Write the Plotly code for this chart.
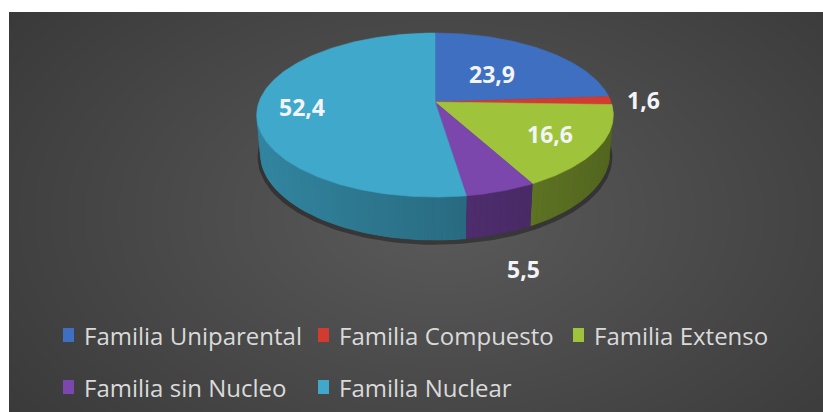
import numpy as np
import plotly.graph_objects as go

# ---- data -------------------------------------------------------------
categories = ["Familia Uniparental", "Familia Compuesto", "Familia Extenso",
              "Familia sin Nucleo", "Familia Nuclear"]
values = [23.9, 1.6, 16.6, 5.5, 52.4]

# ---- style ------------------------------------------------------------
top_colors = ["#3f6fc1", "#d13b30", "#a0c33c", "#7c47ad", "#40a8ca"]
label_radius = [0.50, 1.19, 0.72, 1.30, 0.75]   # fraction of pie radius
label_level = [0.0, 0.0, 0.0, -1.0, 0.0]        # 0 = top face, -1 = base
label_color = "#f2f4f8"
legend_color = "#dadada"
FONT = "Open Sans"

W, HGT = 823, 412
ML, MT = 9, 12

# perspective 3D pie: centre, focal length, camera distance, tilt, thickness
CX, CY = 435.0, 102.0
FOC = 986.0
DIST = 5.6
ALPHA = np.radians(27.0)
THICK = 0.248
SA, CA = np.sin(ALPHA), np.cos(ALPHA)


def project(theta, r, z):
    """theta in radians, clockwise from the back of the pie."""
    X = r * np.sin(theta)
    Y = r * np.cos(theta)
    v = Y * SA + z * CA
    w = Y * CA - z * SA + DIST
    return CX + FOC * X / w, CY - FOC * v / w


def shade(hex_color, k):
    h = hex_color.lstrip("#")
    rgb = [int(h[i:i + 2], 16) for i in (0, 2, 4)]
    return "rgb({},{},{})".format(*[max(0, min(255, int(c * k))) for c in rgb])


def wall_k(theta):
    # light comes from the left: walls facing right are darker
    return 0.66 - 0.15 * np.sin(theta)


def wall_poly(t0, t1, n=3):
    tt = np.linspace(t0, t1, n)
    xt, yt = project(tt, 1.0, 0.0)
    xb, yb = project(tt[::-1], 1.0, -THICK)
    return np.concatenate([xt, xb]), np.concatenate([yt, yb])


fig = go.Figure()

# background: soft radial grey gradient
gx = np.linspace(0, W + 10, 70)
gy = np.linspace(0, HGT + 10, 40)
GX, GY = np.meshgrid(gx, gy)
gz = np.sqrt(((GX - 440) / 520) ** 2 + ((GY - 215) / 330) ** 2)
fig.add_trace(go.Heatmap(
    x=gx, y=gy, z=gz, zmin=0, zmax=1.05, zsmooth="best", showscale=False,
    colorscale=[[0, "#5a5a5a"], [1, "#393939"]], hoverinfo="skip"))

# slice angles
fracs = np.array(values) / np.sum(values)
edges = np.concatenate([[0.0], np.cumsum(fracs)]) * 2 * np.pi

# soft shadow under the pie
t = np.linspace(0, 2 * np.pi, 200)
sx, sy = project(t, 1.015, -THICK)
fig.add_trace(go.Scatter(x=sx, y=sy + 3, fill="toself", mode="lines",
                         line=dict(width=0), fillcolor="rgba(0,0,0,0.35)",
                         hoverinfo="skip"))

# visible part of the side wall
lim = np.arccos(-1.0 / (DIST * CA))
vis_lo, vis_hi = lim, 2 * np.pi - lim

for i, col in enumerate(top_colors):
    a0, a1 = max(edges[i], vis_lo), min(edges[i + 1], vis_hi)
    if a1 <= a0:
        continue
    # base wall in one piece, then a gradient of thin strips on top
    bx, by = wall_poly(a0, a1, 60)
    base = shade(col, wall_k(0.5 * (a0 + a1)))
    fig.add_trace(go.Scatter(x=bx, y=by, fill="toself", mode="lines",
                             line=dict(width=0.5, color=base), fillcolor=base,
                             hoverinfo="skip"))
    n = max(2, int(np.degrees(a1 - a0) / 2) + 1)
    ts = np.linspace(a0, a1, n + 1)
    for j in range(n):
        c = shade(col, wall_k(0.5 * (ts[j] + ts[j + 1])))
        sxp, syp = wall_poly(ts[j], ts[j + 1])
        fig.add_trace(go.Scatter(x=sxp, y=syp, fill="toself", mode="lines",
                                 line=dict(width=0), fillcolor=c,
                                 hoverinfo="skip"))

# top faces
for i, col in enumerate(top_colors):
    tt = np.linspace(edges[i], edges[i + 1], max(4, int(np.degrees(edges[i + 1] - edges[i]))))
    ax, ay = project(tt, 1.0, 0.0)
    px, py = project(0.0, 0.0, 0.0)
    fig.add_trace(go.Scatter(
        x=np.concatenate([[px], ax, [px]]), y=np.concatenate([[py], ay, [py]]),
        fill="toself", mode="lines", line=dict(width=0.6, color=col),
        fillcolor=col, hoverinfo="skip", name=categories[i]))

annotations = []
for i, v in enumerate(values):
    mid = 0.5 * (edges[i] + edges[i + 1])
    lx, ly = project(mid, label_radius[i], label_level[i] * THICK)
    annotations.append(dict(
        x=lx, y=ly, xref="x", yref="y", showarrow=False,
        text="<b>{}</b>".format(f"{v:.1f}".replace(".", ",")),
        font=dict(family=FONT, size=23, color=label_color)))

# legend: three columns, two rows
shapes = []
col_x = [63, 318, 573]
row_y = [335, 387]
for i, (name, col) in enumerate(zip(categories, top_colors)):
    x0 = col_x[i % 3]
    y0 = row_y[i // 3]
    shapes.append(dict(type="rect", xref="x", yref="y", x0=x0, x1=x0 + 11,
                       y0=y0 - 7, y1=y0 + 7, fillcolor=col, line=dict(width=0)))
    annotations.append(dict(
        x=x0 + 19, y=y0, xref="x", yref="y", xanchor="left", yanchor="middle",
        showarrow=False, text=name,
        font=dict(family=FONT, size=24, color=legend_color)))

fig.update_layout(
    width=W, height=HGT,
    margin=dict(l=ML, r=0, t=MT, b=0, pad=0),
    paper_bgcolor="white", plot_bgcolor="#4a4a4a",
    showlegend=False,
    xaxis=dict(range=[ML, W], visible=False, fixedrange=True),
    yaxis=dict(range=[HGT, MT], visible=False, fixedrange=True),
    annotations=annotations, shapes=shapes,
)

fig.write_html("out.html")
